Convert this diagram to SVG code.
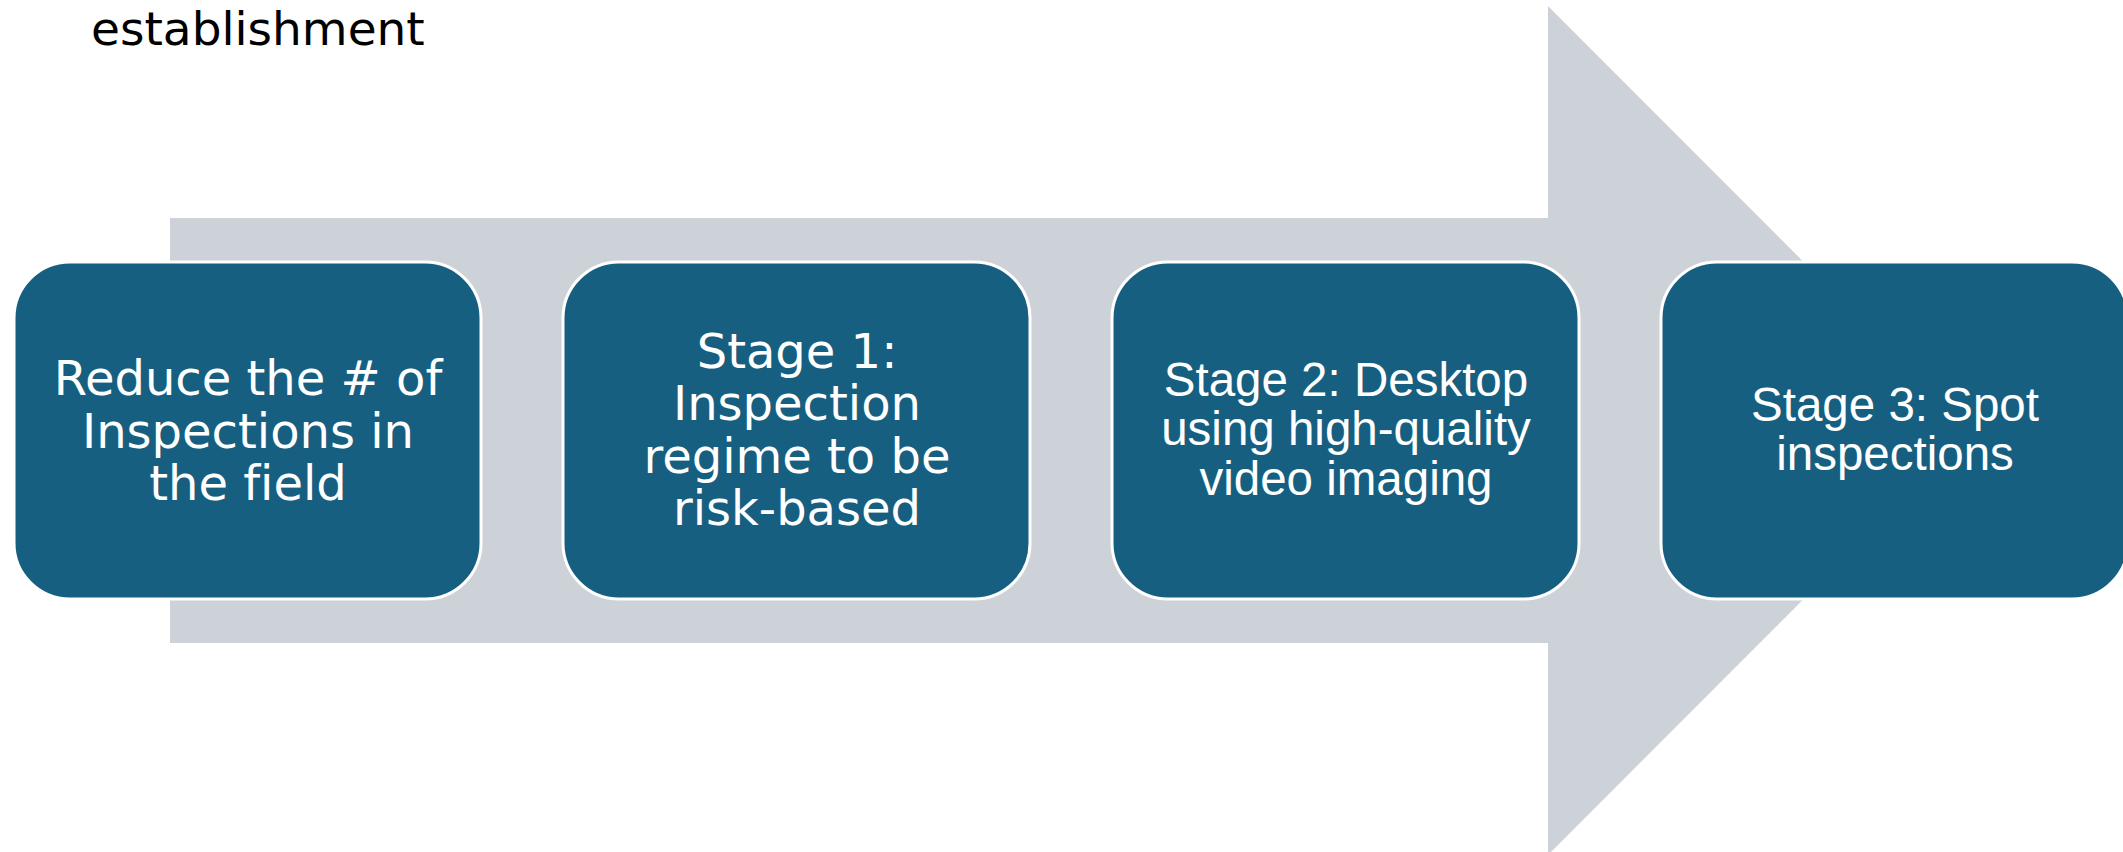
<svg xmlns="http://www.w3.org/2000/svg" width="2123" height="852" viewBox="0 0 2123 852">
<style>
.box{fill:#175F81;stroke:#FFFFFF;stroke-width:3}
.t1{font-family:"DejaVu Sans",Verdana,sans-serif;font-size:48px;fill:#FFFFFF;text-anchor:middle;font-variant-ligatures:none}
.t2{font-family:"Liberation Sans",Arial,sans-serif;font-size:47.5px;fill:#FFFFFF;text-anchor:middle}
.title{font-family:"DejaVu Sans",Verdana,sans-serif;font-size:47px;fill:#000000}
</style>
<rect width="2123" height="852" fill="#FFFFFF"/>
<text class="title" x="91" y="45">establishment</text>
<g id="connectors">
<polygon points="170,218 1548,218 1548,6 1972,430.5 1548,855 1548,643 170,643" fill="#CDD2D9"/>
</g>
<g id="node1">
<rect class="box" x="14" y="262" width="467" height="337" rx="56" ry="56"/>
<text class="t1" x="248" y="395">Reduce the # of</text>
<text class="t1" x="248" y="448">Inspections in</text>
<text class="t1" x="248" y="500">the field</text>
</g>
<g id="node2">
<rect class="box" x="563" y="262" width="467" height="337" rx="56" ry="56"/>
<text class="t1" x="797" y="368">Stage 1:</text>
<text class="t1" x="797" y="420">Inspection</text>
<text class="t1" x="797" y="473">regime to be</text>
<text class="t1" x="797" y="525">risk-based</text>
</g>
<g id="node3">
<rect class="box" x="1112" y="262" width="467" height="337" rx="56" ry="56"/>
<text class="t2" x="1346" y="396">Stage 2: Desktop</text>
<text class="t2" x="1346" y="445">using high-quality</text>
<text class="t2" x="1346" y="495">video imaging</text>
</g>
<g id="node4">
<rect class="box" x="1661" y="262" width="467" height="337" rx="56" ry="56"/>
<text class="t2" x="1895" y="421">Stage 3: Spot</text>
<text class="t2" x="1895" y="470">inspections</text>
</g>
</svg>
